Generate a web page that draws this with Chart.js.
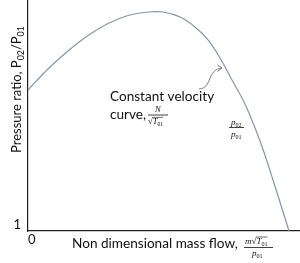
<!DOCTYPE html>
<html><head><meta charset="utf-8">
<script src="https://cdn.jsdelivr.net/npm/chart.js@4"></script>
<style>html,body{margin:0;padding:0;background:#fff}#wrap{width:300px;height:263px;position:relative}</style>
</head><body><div id="wrap"><canvas id="c"></canvas></div>
<script>
// Data (arbitrary units)
const flowValues = [0, 0.735, 1.471, 2.206, 2.941, 3.676, 4.412, 4.963, 5.588, 6.14, 6.618, 7.059, 7.5, 7.978, 8.529, 9.007, 9.596];
const pressureRatioValues = [2.125, 2.30, 2.45, 2.579, 2.679, 2.746, 2.775, 2.775, 2.733, 2.65, 2.542, 2.392, 2.208, 2.008, 1.70, 1.375, 0.95];
const xTickValues = [0];
const xTickLabels = ['0'];
const yTickValues = [1];
const yTickLabels = ['1'];

const FONT = 'Lato, "Open Sans", sans-serif';
const SERIF = '"Liberation Serif", "DejaVu Serif", serif';

function rich(ctx, x, y, segs, size, font) {
  let cx = x;
  for (const s of segs) {
    const fs = s.sub ? size * 0.68 : size;
    ctx.font = `${s.italic ? 'italic ' : ''}${fs}px ${s.font || font}`;
    ctx.fillText(s.t, cx, y + (s.sub ? size * 0.24 : 0));
    cx += ctx.measureText(s.t).width;
  }
  return cx - x;
}
function sqrtT(ctx, x, y, size) {
  ctx.font = `${size}px ${SERIF}`;
  ctx.fillText('√', x, y);
  const w1 = ctx.measureText('√').width;
  const w2 = rich(ctx, x + w1, y, [{t:'T', italic:true}, {t:'01', sub:true}], size, SERIF);
  ctx.beginPath();
  ctx.lineWidth = 0.6;
  ctx.moveTo(x + w1 - 0.5, y - size * 0.78);
  ctx.lineTo(x + w1 + w2, y - size * 0.78);
  ctx.stroke();
  return w1 + w2;
}

const textPlugin = {
  id: 'texts',
  afterDraw(chart) {
    const ctx = chart.ctx;
    ctx.save();
    ctx.fillStyle = '#111';
    ctx.strokeStyle = '#111';
    ctx.textBaseline = 'alphabetic';
    ctx.textAlign = 'left';

    // Y axis title (rotated)
    ctx.save();
    ctx.translate(21, 153);
    ctx.rotate(-Math.PI / 2);
    rich(ctx, 0, 0, [{t:'Pressure ratio, P'}, {t:'02', sub:true}, {t:'/P'}, {t:'01', sub:true}], 13, FONT);
    ctx.restore();

    // X axis title
    ctx.font = `13.6px ${FONT}`;
    ctx.fillText('Non dimensional mass flow,', 72, 248);
    // fraction m√T01 / p01
    ctx.font = `italic 9px ${SERIF}`;
    ctx.fillText('m', 245, 244);
    const mw = ctx.measureText('m').width;
    sqrtT(ctx, 245 + mw, 244, 9);
    ctx.beginPath(); ctx.lineWidth = 0.8;
    ctx.moveTo(244, 247.5); ctx.lineTo(273, 247.5); ctx.stroke();
    rich(ctx, 252, 256, [{t:'p', italic:true}, {t:'01', sub:true}], 9, SERIF);

    // Curve annotation
    ctx.font = `13.6px ${FONT}`;
    ctx.fillText('Constant velocity', 110, 101);
    ctx.fillText('curve,', 110, 119);
    ctx.font = `italic 8.5px ${SERIF}`;
    ctx.fillText('N', 155, 112);
    ctx.beginPath(); ctx.lineWidth = 0.8;
    ctx.moveTo(148, 115); ctx.lineTo(168, 115); ctx.stroke();
    sqrtT(ctx, 148, 124, 8.5);

    // p02/p01 near curve
    rich(ctx, 231, 125, [{t:'p', italic:true}, {t:'02', sub:true}], 9, SERIF);
    ctx.beginPath(); ctx.lineWidth = 0.8;
    ctx.moveTo(229, 127.5); ctx.lineTo(244, 127.5); ctx.stroke();
    rich(ctx, 231, 137, [{t:'p', italic:true}, {t:'01', sub:true}], 9, SERIF);

    // arrow
    ctx.strokeStyle = '#6d7d90';
    ctx.lineWidth = 1;
    ctx.beginPath();
    ctx.moveTo(199, 89);
    ctx.bezierCurveTo(213, 88, 206, 70, 222, 68);
    ctx.stroke();
    ctx.beginPath();
    ctx.moveTo(217.5, 65); ctx.lineTo(222, 68); ctx.lineTo(217.5, 71.5);
    ctx.stroke();
    ctx.restore();
  }
};

new Chart(document.getElementById('c'), {
  type: 'line',
  data: {
    datasets: [{
      data: flowValues.map((x, i) => ({x, y: pressureRatioValues[i]})),
      borderColor: '#8595a8',
      borderWidth: 1.2,
      pointRadius: 0,
      fill: false,
      tension: 0.4
    }]
  },
  options: {
    responsive: true,
    maintainAspectRatio: false,
    animation: false,
    layout: {padding: 0},
    plugins: {legend: {display: false}, tooltip: {enabled: false}},
    scales: {
      x: {
        type: 'linear', min: 0, max: 10,
        grid: {display: false, drawTicks: false},
        border: {display: true, color: '#222', width: 1.2},
        afterBuildTicks: s => { s.ticks = xTickValues.map(v => ({value: v})); },
        ticks: {
          align: 'start', padding: 1, color: '#111', maxRotation: 0,
          font: {family: 'Lato, "Open Sans", sans-serif', size: 13},
          callback: (v, i) => xTickLabels[i]
        },
        afterFit: s => { s.height = 32; s.paddingLeft = 0; s.paddingRight = 0; }
      },
      y: {
        type: 'linear', min: 0.95, max: 2.875,
        grid: {display: false, drawTicks: false},
        border: {display: true, color: '#222', width: 1.2},
        afterBuildTicks: s => { s.ticks = yTickValues.map(v => ({value: v})); },
        ticks: {
          padding: 7, color: '#111',
          font: {family: 'Lato, "Open Sans", sans-serif', size: 13},
          callback: (v, i) => yTickLabels[i]
        },
        afterFit: s => { s.width = 28; s.paddingTop = 0; s.paddingBottom = 0; }
      }
    }
  },
  plugins: [textPlugin]
});
</script>
</body></html>
